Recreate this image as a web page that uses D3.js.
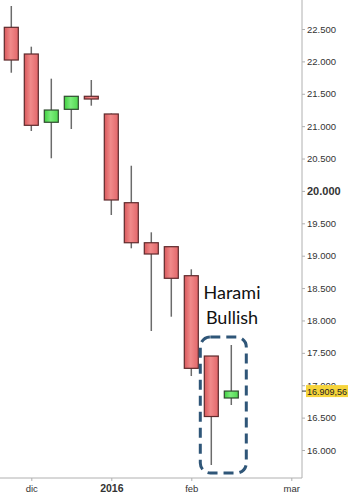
<!DOCTYPE html>
<html>
<head>
<meta charset="utf-8">
<script src="https://cdn.jsdelivr.net/npm/d3@7"></script>
<style>
  body { margin: 0; background: #fff; }
  svg { display: block; }
</style>
</head>
<body>
<svg width="349" height="500"></svg>
<script>
// weekly candles (index data)
var weeks  = ['2015-11-30','2015-12-07','2015-12-14','2015-12-21','2015-12-28','2016-01-04',
              '2016-01-11','2016-01-18','2016-01-25','2016-02-01','2016-02-08','2016-02-15'];
var opens  = [22526, 22114, 21060, 21260, 21461, 21188, 19818, 19200, 19139, 18691, 17451, 16803];
var highs  = [22855, 22227, 21733, 21461, 21713, 21195, 20389, 19361, 19139, 18790, 17451, 17621];
var lows   = [21825, 20925, 20504, 20956, 21316, 19628, 19114, 17837, 18058, 17142, 15768, 16695];
var closes = [22021, 21013, 21249, 21461, 21419, 19860, 19200, 19026, 18651, 17261, 16517, 16910];
var lastPrice = 16909.56;

// empty weeks to the right of the data
var futureWeeks = ['2016-02-22','2016-02-29','2016-03-07'];

var xTickWeeks  = ['2015-12-07','2016-01-04','2016-02-01','2016-03-07'];
var xTickLabels = ['dic','2016','feb','mar'];

var yTicks = [16000,16500,17000,17500,18000,18500,19000,19500,20000,20500,21000,21500,22000,22500];

var svg = d3.select('svg');
var plotW = 302, plotBottom = 478;

// 0. scales
// ----------------------------------
var x = d3.scalePoint()
    .domain(weeks.concat(futureWeeks))
    .range([11.3, 291.3]);

var y = d3.scaleLinear()
    .domain([16000, 22500])
    .range([450, 29]);

var fmt = d3.formatLocale({decimal: ',', thousands: '.', grouping: [3], currency: ['', '']});
var fmtTick = fmt.format(',.0f');
var fmtPrice = fmt.format(',.2f');

// gradients for bodies
var defs = svg.append('defs');
function grad(id, stops) {
    var g = defs.append('linearGradient').attr('id', id);
    stops.forEach(function(s) {
        g.append('stop').attr('offset', s[0]).attr('stop-color', s[1]);
    });
}
grad('red-body', [['0%', '#d9585b'], ['45%', '#f08a8a'], ['100%', '#e2676a']]);
grad('green-body', [['0%', '#3fcf3f'], ['45%', '#7ced7c'], ['100%', '#4fd84f']]);

// 1. axes
// ----------------------------------
var xAxis = d3.axisBottom(x)
    .tickValues(xTickWeeks)
    .tickSize(3)
    .tickFormat(function(d) { return xTickLabels[xTickWeeks.indexOf(d)]; });

var gx = svg.append('g')
    .attr('transform', 'translate(0,' + plotBottom + ')')
    .call(xAxis);
gx.select('.domain').attr('d', 'M0,0H' + plotW).attr('stroke', '#b0b0b0');
gx.selectAll('.tick line').attr('stroke', '#b0b0b0');
gx.selectAll('.tick text')
    .attr('y', 7)
    .attr('fill', '#333')
    .style('font-family', '"Liberation Sans", Arial, sans-serif')
    .style('font-weight', function(d) { return d === '2016-01-04' ? 'bold' : 'normal'; })
    .style('font-size', function(d) { return d === '2016-01-04' ? '10.5px' : '9.5px'; });

var yAxis = d3.axisRight(y)
    .tickValues(yTicks)
    .tickSize(3)
    .tickPadding(2)
    .tickFormat(fmtTick);

var gy = svg.append('g')
    .attr('transform', 'translate(' + plotW + ',0)')
    .call(yAxis);
gy.select('.domain').attr('d', 'M0,0V' + plotBottom).attr('stroke', '#b0b0b0');
gy.selectAll('.tick line').attr('stroke', '#b0b0b0');
gy.selectAll('.tick text')
    .attr('fill', '#333')
    .style('font-family', '"Liberation Sans", Arial, sans-serif')
    .style('font-size', function(d) { return d === 20000 ? '11px' : '9.5px'; })
    .style('font-weight', function(d) { return d === 20000 ? 'bold' : 'normal'; });

// 2. candles
// ----------------------------------
var candles = weeks.map(function(w, i) {
    return {week: w, o: opens[i], h: highs[i], l: lows[i], c: closes[i]};
});
var bodyW = 14;

var cg = svg.append('g').classed('candles', true);
var candle = cg.selectAll('g.candle')
    .data(candles)
    .enter().append('g')
    .classed('candle', true);

candle.append('line')
    .attr('x1', d => x(d.week))
    .attr('x2', d => x(d.week))
    .attr('y1', d => y(d.h))
    .attr('y2', d => y(d.l))
    .attr('stroke', '#6b6b6b')
    .attr('stroke-width', 1.5);

candle.append('rect')
    .attr('x', d => x(d.week) - bodyW / 2)
    .attr('y', d => y(Math.max(d.o, d.c)))
    .attr('width', bodyW)
    .attr('height', d => Math.max(2, Math.abs(y(d.o) - y(d.c))))
    .attr('fill', d => d.c >= d.o ? 'url(#green-body)' : 'url(#red-body)')
    .attr('stroke', d => d.c >= d.o ? '#2f4a2f' : '#5e2a2c')
    .attr('stroke-width', 1.2);

// 3. last price label
// ----------------------------------
var py = y(lastPrice);
var lab = svg.append('g').attr('transform', 'translate(' + plotW + ',' + py + ')');
lab.append('line').attr('x1', 0).attr('x2', 4).attr('stroke', '#333');
lab.append('rect')
    .attr('x', 4).attr('y', -6)
    .attr('width', 42).attr('height', 12)
    .attr('fill', '#f6d43a');
lab.append('text')
    .attr('x', 5).attr('y', 3.5)
    .attr('fill', '#222')
    .attr('textLength', 40)
    .attr('lengthAdjust', 'spacingAndGlyphs')
    .style('font', '9.5px "Liberation Sans", Arial, sans-serif')
    .text(fmtPrice(lastPrice));

// 4. pattern annotation
// ----------------------------------
var x0 = x(weeks[10]) - 11, x1 = x(weeks[11]) + 15;
svg.append('rect')
    .attr('x', x0).attr('y', y(highs[11]) - 8)
    .attr('width', x1 - x0)
    .attr('height', y(lows[10]) + 8 - (y(highs[11]) - 8))
    .attr('rx', 10).attr('ry', 10)
    .attr('fill', 'none')
    .attr('stroke', '#2f5678')
    .attr('stroke-width', 3)
    .attr('stroke-dasharray', '10,6');

var note = svg.append('g')
    .style('font', '18px Lato, "Open Sans", sans-serif')
    .attr('fill', '#111')
    .attr('text-anchor', 'middle');
note.append('text').attr('x', 232).attr('y', 299).text('Harami');
note.append('text').attr('x', 232).attr('y', 324).text('Bullish');
</script>
</body>
</html>
